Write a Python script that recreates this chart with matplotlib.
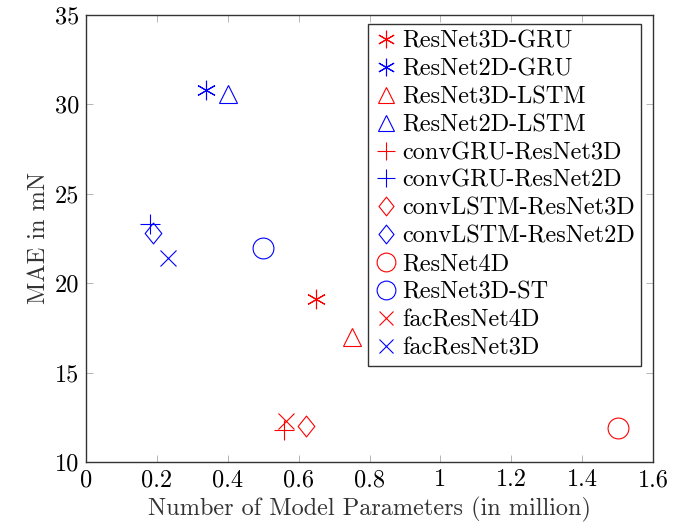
import matplotlib
matplotlib.use("Agg")
import matplotlib.pyplot as plt
from matplotlib.path import Path

plt.rcParams['font.family'] = ['cmr10', 'DejaVu Serif']
plt.rcParams['mathtext.fontset'] = 'cm'
plt.rcParams['axes.formatter.use_mathtext'] = True

names = ["ResNet3D-GRU", "ResNet2D-GRU", "ResNet3D-LSTM", "ResNet2D-LSTM",
         "convGRU-ResNet3D", "convGRU-ResNet2D", "convLSTM-ResNet3D", "convLSTM-ResNet2D",
         "ResNet4D", "ResNet3D-ST", "facResNet4D", "facResNet3D"]
params = [0.65, 0.34, 0.75, 0.40, 0.56, 0.18, 0.62, 0.19, 1.50, 0.50, 0.565, 0.23]
mae = [19.1, 30.8, 17.0, 30.6, 11.8, 23.3, 12.0, 22.8, 11.9, 21.95, 12.3, 21.4]
colors = ["red", "blue"] * 6

diamond = Path([(0, 1), (0.8, 0), (0, -1), (-0.8, 0), (0, 1)],
               [Path.MOVETO, Path.LINETO, Path.LINETO, Path.LINETO, Path.CLOSEPOLY])
markers = [(6, 2, 0), (6, 2, 0), '^', '^', '+', '+', diamond, diamond, 'o', 'o', 'x', 'x']
sizes = [14, 14, 13, 13, 15, 15, 15, 15, 15, 15, 11, 11]

FS = 17.5

fig = plt.figure(figsize=(6.84, 5.22), dpi=100)
ax = fig.add_axes([86/684, 1-462/522, (653-86)/684, (462-15)/522])

for n, x, y, c, m, s in zip(names, params, mae, colors, markers, sizes):
    ax.plot([x], [y], linestyle='none', marker=m, markersize=s,
            markerfacecolor='none', markeredgecolor=c, color=c,
            markeredgewidth=0.8, label=n)

ax.set_xlim(0, 1.6)
ax.set_ylim(10, 35)
ax.set_xticks([0, 0.2, 0.4, 0.6, 0.8, 1, 1.2, 1.4, 1.6])
ax.set_xticklabels(["0", "0.2", "0.4", "0.6", "0.8", "1", "1.2", "1.4", "1.6"])
ax.set_yticks([10, 15, 20, 25, 30, 35])
ax.set_yticklabels(["10", "15", "20", "25", "30", "35"])
ax.tick_params(direction='in', top=True, right=True, length=5, width=0.6,
               color='#aaaaaa', labelsize=FS, pad=5)
for sp in ax.spines.values():
    sp.set_color('#333333')
    sp.set_linewidth(1.0)
ax.set_xlabel("Number of Model Parameters (in million)", fontsize=FS, color='#333333', labelpad=4)
ax.set_ylabel("MAE in mN", fontsize=FS, color='#333333', labelpad=3)

leg = ax.legend(loc='upper right', bbox_to_anchor=(641/684, 1-24/522),
                bbox_transform=fig.transFigure, fontsize=FS, frameon=True,
                fancybox=False, edgecolor='#333333', framealpha=1,
                handlelength=1.0, handletextpad=0.15, borderpad=0.25,
                labelspacing=0.24, borderaxespad=0, numpoints=1, markerscale=0.9)
leg.get_frame().set_linewidth(1.0)

fig.savefig("out.png", dpi=100)
